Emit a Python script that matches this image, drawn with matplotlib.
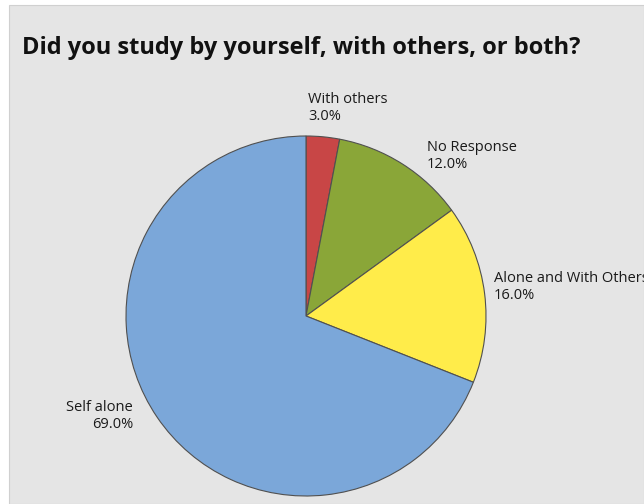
import matplotlib.pyplot as plt
from matplotlib.patches import Rectangle

plt.rcParams['font.family'] = ['Open Sans', 'DejaVu Sans']

# datos
labels = ['With others', 'No Response', 'Alone and With Others', 'Self alone']
values = [3.0, 12.0, 16.0, 69.0]
colors = ['#C84646', '#8AA638', '#FFEC4A', '#7BA7D9']

W, H = 644, 504
fig = plt.figure(figsize=(W / 100, H / 100), dpi=100)
fig.patch.set_facecolor('white')

ax = fig.add_axes([0, 0, 1, 1])
ax.set_xlim(0, W)
ax.set_ylim(0, H)
ax.set_aspect('equal')
ax.axis('off')

# fondo gris
ax.add_patch(Rectangle((9, 0), W - 9, H - 5, facecolor='#E5E5E5', edgecolor='#D0D0D0', lw=0.8, zorder=0))

cx, cy, r = 306, H - 316, 180
ax.pie(values, colors=colors, startangle=90, counterclock=False,
       center=(cx, cy), radius=r, frame=True,
       wedgeprops=dict(edgecolor='#505050', linewidth=0.8))
ax.set_xlim(0, W)
ax.set_ylim(0, H)
ax.axis('off')

# etiquetas
pos = [(308, 108, 'left'), (427, 156, 'left'), (494, 287, 'left'), (133, 416, 'right')]
for (x, y, ha), lab, v in zip(pos, labels, values):
    ax.text(x, H - y, f'{lab}\n{v:.1f}%', ha=ha, va='center', fontsize=10.5,
            linespacing=1.2, color='#1a1a1a')

ax.text(22, H - 48, 'Did you study by yourself, with others, or both?', ha='left', va='center',
        fontsize=17, fontweight='bold', color='#111111')

fig.savefig('out.png', dpi=100)
